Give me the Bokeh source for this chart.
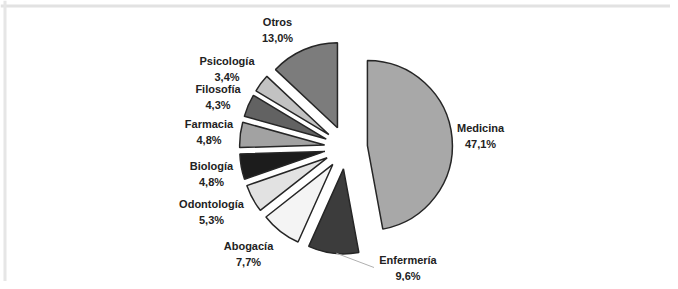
import math
from bokeh.plotting import figure
from bokeh.models import Range1d, ColumnDataSource, Span
from bokeh.core.properties import value
from bokeh.embed import file_html
from bokeh.resources import INLINE

# ---- data ----
categories = ["Medicina", "Enfermería", "Abogacía", "Odontología", "Biología",
              "Farmacia", "Filosofía", "Psicología", "Otros"]
percents = [47.1, 9.6, 7.7, 5.3, 4.8, 4.8, 4.3, 3.4, 13.0]
pct_labels = ["47,1%", "9,6%", "7,7%", "5,3%", "4,8%", "4,8%", "4,3%", "3,4%", "13,0%"]

# ---- style / layout ----
colors = ["#a8a8a8", "#3c3c3c", "#f4f4f4", "#e2e2e2", "#1c1c1c",
          "#a2a2a2", "#626262", "#c2c2c2", "#7c7c7c"]
# label centres relative to pie centre (screen px, y down)
label_offsets = [(134.5, -12), (62, 120), (-97.5, 106), (-134.5, 64.5), (-134.5, 26),
                 (-137, -16), (-128, -50.5), (-119, -78.5), (-68.5, -118)]
W, H = 670, 281
ORIGIN = 0  # screen position of the figure's top-left corner
CX, CY_SCREEN = 345.5, 147
R = 85
EXPLODE = 21.5
LINE_GAP = 8


def sy(y):
    return ORIGIN + H - y


CY = sy(CY_SCREEN)

total = sum(percents)
xs, ys, starts, ends, mids = [], [], [], [], []
cum = 0.0
for v in percents:
    a0 = cum / total * 2 * math.pi
    cum += v
    a1 = cum / total * 2 * math.pi
    m = (a0 + a1) / 2
    mids.append(m)
    xs.append(CX + EXPLODE * math.sin(m))
    ys.append(CY + EXPLODE * math.cos(m))
    starts.append(math.pi / 2 - a0)
    ends.append(math.pi / 2 - a1)

src = ColumnDataSource(dict(x=xs, y=ys, start=starts, end=ends, color=colors))

p = figure(width=W, height=H, output_backend="svg", toolbar_location=None,
           x_range=Range1d(ORIGIN, ORIGIN + W), y_range=Range1d(ORIGIN, ORIGIN + H), min_border=0)
p.axis.visible = False
p.grid.visible = False
p.outline_line_color = None
p.background_fill_color = "white"
p.border_fill_color = "white"

# faint frame lines of the original scan
p.add_layout(Span(location=sy(5.5), dimension="width", line_color="#e2e2e2", line_width=3))
p.add_layout(Span(location=ORIGIN + 4.5, dimension="height", line_color="#e6e6e6", line_width=3))

p.wedge(x="x", y="y", radius=R, start_angle="start", end_angle="end", direction="clock",
        fill_color="color", line_color="#262626", line_width=1.5, source=src)

# leader line for Enfermería
i = 1
ax = xs[i] + R * math.sin(mids[i])
ay = ys[i] + R * math.cos(mids[i])
lx = CX + label_offsets[i][0] - 34
ly = sy(CY_SCREEN + label_offsets[i][1])
p.line([ax + 3, lx], [ay, ly], line_color="#b0b0b0", line_width=1)

nx, ny, px_, py_ = [], [], [], []
for (ox, oy) in label_offsets:
    nx.append(CX + ox)
    ny.append(sy(CY_SCREEN + oy - LINE_GAP))
    px_.append(CX + ox)
    py_.append(sy(CY_SCREEN + oy + LINE_GAP))

common = dict(text_align="center", text_baseline="middle", text_font=value("Liberation Sans"),
              text_font_style="bold", text_font_size="11px", text_color="#222222")
p.text(x=nx, y=ny, text=categories, **common)
p.text(x=px_, y=py_, text=pct_labels, **common)

open("out.html", "w").write(file_html(p, INLINE))
